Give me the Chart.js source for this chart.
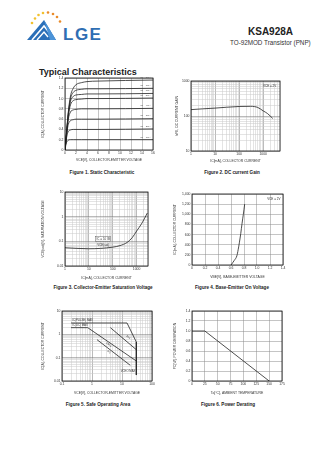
<!DOCTYPE html>
<html>
<head>
<meta charset="utf-8">
<script src="https://cdn.jsdelivr.net/npm/chart.js@4/dist/chart.umd.min.js"></script>
<style>
  body { margin: 0; width: 336px; height: 475px; position: relative; overflow: hidden; background: #fff;
         font-family: "Liberation Sans", Arial, sans-serif; color: #222; }
  canvas { position: absolute; }
  .cap { position: absolute; font-weight: bold; font-size: 4.6px; white-space: nowrap; transform: translateX(-50%); }
  #part { position: absolute; left: 248px; top: 26px; font-weight: bold; font-size: 10px; }
  #pkg { position: absolute; left: 230px; top: 39px; font-size: 6.3px; color: #333; }
  #sect { position: absolute; left: 39px; top: 67px; font-weight: bold; font-size: 9px; }
  #logo { position: absolute; left: 0; top: 0; }
</style>
</head>
<body>
<svg id="logo" width="120" height="50">
  <g fill="#f2c12e">
    <circle cx="32" cy="23" r="1.3"/><circle cx="35" cy="18.5" r="1.3"/><circle cx="38.5" cy="15" r="1.3"/>
    <circle cx="43" cy="13" r="1.3"/>
  </g>
  <g fill="#e98b2a">
    <circle cx="48" cy="12.5" r="1.3"/><circle cx="53" cy="14" r="1.3"/><circle cx="57" cy="17" r="1.3"/>
    <circle cx="60" cy="21.5" r="1.3"/>
  </g>
  <polygon points="27,40 44,20 56,40" fill="#2b6fb8"/>
  <polyline points="32,40 44,26 52,36" fill="none" stroke="#fff" stroke-width="1.6"/>
  <polyline points="37,40 44,32 48,37" fill="none" stroke="#fff" stroke-width="1.4"/>
  <polygon points="44,20 56,40 50,40" fill="#4b93d8"/>
  <text x="63" y="40" font-family="Liberation Sans, Arial, sans-serif" font-weight="bold" font-size="17" letter-spacing="1.5" fill="#2f6eb3">LGE</text>
</svg>
<div id="part">KSA928A</div>
<div id="pkg">TO-92MOD Transistor (PNP)</div>
<div id="sect">Typical Characteristics</div>

<canvas id="c1" width="117" height="88" style="left:40px;top:74px"></canvas>
<canvas id="c2" width="112" height="86" style="left:174px;top:77px"></canvas>
<canvas id="c3" width="114" height="92" style="left:40px;top:188px"></canvas>
<canvas id="c4" width="117" height="89" style="left:172px;top:190px"></canvas>
<canvas id="c5" width="118" height="88" style="left:40px;top:307px"></canvas>
<canvas id="c6" width="116" height="88" style="left:172px;top:307px"></canvas>

<div class="cap" style="left:102px;top:170px">Figure 1. Static Characteristic</div>
<div class="cap" style="left:232px;top:170px">Figure 2. DC current Gain</div>
<div class="cap" style="left:103px;top:285px">Figure 3. Collector-Emitter Saturation Voltage</div>
<div class="cap" style="left:232px;top:285px">Figure 4. Base-Emitter On Voltage</div>
<div class="cap" style="left:98px;top:402px">Figure 5. Safe Operating Area</div>
<div class="cap" style="left:228px;top:402px">Figure 6. Power Derating</div>

<script>
// Fig 1: static characteristic, IC[A] against VCE[V] for each base current
const vceStatic = [0, 0.2, 0.4, 0.6, 1, 1.5, 2, 3, 4, 6, 16];
const icB1 = [0, 0.12, 0.17, 0.19, 0.2, 0.2, 0.2, 0.2, 0.2, 0.2, 0.2];
const icB2 = [0, 0.18, 0.3, 0.36, 0.39, 0.4, 0.4, 0.4, 0.4, 0.4, 0.41];
const icB3 = [0, 0.2, 0.38, 0.5, 0.57, 0.59, 0.6, 0.6, 0.6, 0.6, 0.61];
const icB4 = [0, 0.22, 0.42, 0.6, 0.74, 0.78, 0.79, 0.8, 0.8, 0.8, 0.81];
const icB5 = [0, 0.23, 0.45, 0.66, 0.88, 0.96, 0.98, 0.99, 1.0, 1.0, 1.01];
const icB6 = [0, 0.24, 0.47, 0.69, 0.95, 1.04, 1.07, 1.08, 1.09, 1.09, 1.1];
const icB7 = [0, 0.25, 0.48, 0.71, 1.0, 1.12, 1.16, 1.18, 1.19, 1.19, 1.2];
const icB8 = [0, 0.25, 0.5, 0.74, 1.05, 1.2, 1.27, 1.31, 1.33, 1.34, 1.36];
const ibNames = ['IB = 1mA', 'IB = 2mA', 'IB = 3mA', 'IB = 4mA', 'IB = 5mA', 'IB = 6mA', 'IB = 7mA', 'IB = 8mA'];

// Fig 2: DC current gain
const icGain = [1, 3, 10, 30, 100, 300, 600, 1000, 1500, 2500];
const hfe = [152, 160, 168, 178, 187, 189, 175, 140, 118, 85];

// Fig 3: collector-emitter saturation voltage
const icSat = [1, 10, 100, 200, 400, 650, 1000, 1700, 2800];
const vceSat = [0.055, 0.05, 0.058, 0.067, 0.09, 0.14, 0.26, 0.56, 1.4];

// Fig 4: base-emitter on voltage
const vbeOn = [0.6, 0.65, 0.69, 0.71, 0.73, 0.75, 0.77, 0.79, 0.81];
const icOn = [0, 90, 180, 300, 450, 620, 820, 1000, 1200];

// Fig 5: safe operating area boundaries (VCE[V], IC[A])
const soaPulseV = [0.2, 14.7, 30];
const soaPulseI = [3.06, 3.06, 0.47];
const soaDcV = [0.2, 0.72];
const soaDcI = [1.93, 1.93];
const soa1msV = [4.1, 30];
const soa1msI = [1.93, 0.22];
const soa10msV = [0.72, 30];
const soa10msI = [1.93, 0.072];
const soaDcLineV = [1.47, 18.9];
const soaDcLineI = [0.59, 0.047];
const vceoV = [30, 30];
const vceoI = [0.47, 0.018];

// Fig 6: power derating
const tAmb = [0, 25, 150];
const pDiss = [1.0, 1.0, 0];

const FS = 3.4;
const INK = '#222';
Chart.defaults.font.family = '"Liberation Sans", Arial, sans-serif';
Chart.defaults.color = '#333';

const pts = (xs, ys) => xs.map((x, i) => ({ x, y: ys[i] }));

function logTicks(min, max) {
  const t = [];
  for (let e = Math.floor(Math.log10(min)); e <= Math.ceil(Math.log10(max)); e++) {
    for (let m = 1; m < 10; m++) {
      const v = +(m * Math.pow(10, e)).toPrecision(3);
      if (v >= min * 0.999 && v <= max * 1.001) t.push(v);
    }
  }
  return t;
}
const isDecade = v => Math.abs(Math.log10(v) - Math.round(Math.log10(v))) < 1e-6;

function axis(o) {
  const a = {
    type: o.log ? 'logarithmic' : 'linear',
    min: o.min, max: o.max,
    border: { display: false },
    grid: { drawTicks: false, lineWidth: 0.5, color: '#8a8a8a' },
    ticks: { font: { size: FS }, padding: o.pad || 1.5, autoSkip: false, maxRotation: 0, color: '#333' },
    title: { display: true, text: o.title, font: { size: FS }, padding: { top: 1, bottom: 0 }, color: '#333' },
    afterFit: s => { if (o.w) s.width = o.w; if (o.h) s.height = o.h; }
  };
  if (o.step) a.ticks.stepSize = o.step;
  if (o.log) {
    const list = logTicks(o.min, o.max);
    a.afterBuildTicks = s => { s.ticks = list.map(v => ({ value: v })); };
    a.ticks.callback = v => isDecade(v) ? String(v) : '';
    a.grid.color = c => (c.tick && isDecade(c.tick.value)) ? '#777' : '#c8c8c8';
  }
  return a;
}

// black plot frame plus text notes placed in data coordinates
function decor(notes) {
  return {
    id: 'decor',
    afterDraw(chart) {
      const { ctx, chartArea: ca, scales } = chart;
      ctx.save();
      ctx.strokeStyle = '#111';
      ctx.lineWidth = 0.8;
      ctx.strokeRect(ca.left, ca.top, ca.right - ca.left, ca.bottom - ca.top);
      (notes || []).forEach(n => {
        const px = scales.x.getPixelForValue(n.x);
        const py = scales.y.getPixelForValue(n.y);
        ctx.save();
        ctx.translate(px, py);
        if (n.rot) ctx.rotate(n.rot * Math.PI / 180);
        ctx.font = (n.size || 3) + 'px "Liberation Sans", Arial, sans-serif';
        ctx.textAlign = n.align || 'left';
        ctx.textBaseline = 'middle';
        const w = ctx.measureText(n.text).width;
        const x0 = n.align === 'right' ? -w : n.align === 'center' ? -w / 2 : 0;
        if (n.bg) { ctx.fillStyle = '#fff'; ctx.fillRect(x0 - 0.6, -2, w + 1.2, 4); }
        if (n.box) { ctx.strokeStyle = '#444'; ctx.lineWidth = 0.4; ctx.strokeRect(x0 - 0.8, -2.2, w + 1.6, 4.4); }
        ctx.fillStyle = n.color || '#333';
        ctx.fillText(n.text, 0, 0);
        ctx.restore();
      });
      ctx.restore();
    }
  };
}

function plot(id, datasets, x, y, pad, notes, smooth) {
  return new Chart(document.getElementById(id), {
    type: 'line',
    data: {
      datasets: datasets.map(d => ({
        data: d, borderColor: INK, borderWidth: 0.8, pointRadius: 0, fill: false,
        tension: smooth ? 0.4 : 0, cubicInterpolationMode: smooth ? 'monotone' : 'default'
      }))
    },
    options: {
      responsive: false, animation: false, devicePixelRatio: 1,
      layout: { padding: { top: pad[0], right: pad[1], left: 0, bottom: 0 } },
      plugins: { legend: { display: false }, tooltip: { enabled: false } },
      scales: { x: axis(x), y: axis(y) }
    },
    plugins: [decor(notes)]
  });
}

// Figure 1
const staticCurves = [icB1, icB2, icB3, icB4, icB5, icB6, icB7, icB8];
plot('c1', staticCurves.map(c => pts(vceStatic, c)),
  { min: 0, max: 16, step: 2, title: 'VCE[V], COLLECTOR-EMITTER VOLTAGE', h: 12 },
  { min: 0, max: 1.4, step: 0.2, title: 'IC[A], COLLECTOR CURRENT', w: 25 },
  [4, 4],
  staticCurves.map((c, i) => ({ x: 15.6, y: c[c.length - 1] + 0.055, text: ibNames[i], align: 'right', size: 2.5, color: '#555' })),
  true);

// Figure 2
plot('c2', [pts(icGain, hfe)],
  { log: true, min: 1, max: 5000, title: 'IC[mA], COLLECTOR CURRENT', h: 12 },
  { log: true, min: 10, max: 1000, title: 'hFE, DC CURRENT GAIN', w: 17 },
  [4, 6],
  [{ x: 3500, y: 700, text: 'VCE = 2V', align: 'right', size: 3 }], true);

// Figure 3
plot('c3', [pts(icSat, vceSat)],
  { log: true, min: 1, max: 3000, title: 'IC[mA], COLLECTOR CURRENT', h: 14 },
  { log: true, min: 0.01, max: 10, title: 'VCE(sat)[V], SATURATION VOLTAGE', w: 25 },
  [4, 6],
  [{ x: 40, y: 0.125, text: 'IC = 10 IB', align: 'center', size: 3, box: true, bg: true },
   { x: 40, y: 0.07, text: 'VCE(sat)', align: 'center', size: 3 }], true);

// Figure 4
plot('c4', [pts(vbeOn, icOn)],
  { min: 0, max: 1.4, step: 0.2, title: 'VBE[V], BASE-EMITTER VOLTAGE', h: 14 },
  { min: 0, max: 1400, step: 200, title: 'IC[mA], COLLECTOR CURRENT', w: 20 },
  [4, 6],
  [{ x: 1.36, y: 1300, text: 'VCE = 2V', align: 'right', size: 3 }], true);

// Figure 5
plot('c5', [pts(soaPulseV, soaPulseI), pts(soaDcV, soaDcI), pts(soa1msV, soa1msI),
            pts(soa10msV, soa10msI), pts(soaDcLineV, soaDcLineI), pts(vceoV, vceoI)],
  { log: true, min: 0.1, max: 100, title: 'VCE[V], COLLECTOR-EMITTER VOLTAGE', h: 14 },
  { log: true, min: 0.01, max: 10, title: 'IC[A], COLLECTOR CURRENT', w: 22 },
  [4, 6],
  [{ x: 0.22, y: 4.0, text: 'IC(PULSE) MAX', size: 2.8 },
   { x: 0.22, y: 2.45, text: 'IC(DC) MAX', size: 2.8 },
   { x: 14, y: 0.9, text: '1ms', size: 2.6, rot: 40 },
   { x: 3, y: 0.45, text: '10ms', size: 2.6, rot: 40 },
   { x: 3.3, y: 0.2, text: 'DC', size: 2.6, rot: 40 },
   { x: 28, y: 0.025, text: 'VCEO MAX', align: 'right', size: 2.8 }], false);

// Figure 6
plot('c6', [pts(tAmb, pDiss)],
  { min: 0, max: 175, step: 25, title: 'Ta[°C], AMBIENT TEMPERATURE', h: 14 },
  { min: 0, max: 1.4, step: 0.2, title: 'PC[W], POWER DISSIPATION', w: 20 },
  [4, 6], [], false);
</script>
</body>
</html>
